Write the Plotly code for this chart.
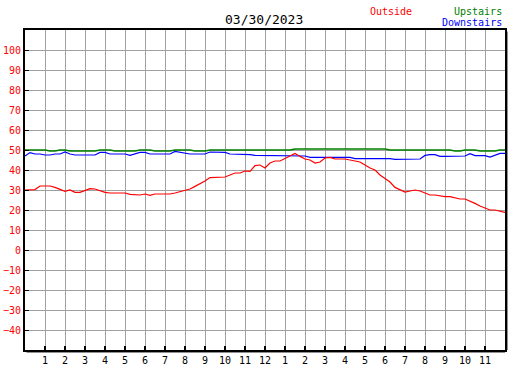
import plotly.graph_objects as go

# time in hours, 15-minute steps over the day
hours = [i / 4 for i in range(97)]

outside = [30, 30, 30.2, 32, 32, 32, 31.3, 30.3, 29.3, 30, 28.8, 28.8, 29.7, 30.7, 30.5, 29.8,
           28.8, 28.5, 28.5, 28.5, 28.5, 27.8, 27.8, 27.5, 28, 27.3, 28, 28, 28, 28, 28.5, 29.2,
           29.8, 30.5, 31.8, 33, 34.5, 36.2, 36.2, 36.5, 36.5, 37.5, 38.5, 38.5, 39.5, 39.3, 42.2, 42.5,
           41, 43.5, 44.5, 44.5, 45.8, 47.2, 48.3, 46.8, 45.5, 45, 43.5, 44, 46, 46.3, 45.5, 45.5,
           45.5, 45, 44.5, 44, 42.5, 41, 40, 37.5, 35.8, 34, 31.3, 30, 29, 29.5, 30, 29.5,
           28.3, 27.5, 27.5, 27, 26.7, 26.7, 26, 25.5, 25.5, 24.5, 23.3, 22, 20.8, 20, 20, 19.5,
           18.8]

downstairs = [47, 48.7, 48, 48, 47.5, 47.5, 48, 48, 49, 48, 47.5, 47.5, 47.5, 47.5, 47.5, 48.8,
              48.8, 48, 48, 48, 48, 47.3, 48, 48.8, 48.8, 48, 48, 48, 48, 48, 49.3, 48.8,
              48.3, 48, 48, 48, 48, 49, 49, 48.8, 48.8, 48, 48, 47.7, 47.7, 47.7, 47.3, 47.3,
              47.3, 47.3, 47.3, 47.3, 47, 47, 47, 47, 47, 46.3, 46.3, 46.3, 46.3, 46.3, 46.3, 46.3,
              46.3, 46.3, 45.7, 45.7, 45.7, 45.7, 45.7, 45.7, 45.7, 45.7, 45.3, 45.3, 45.3, 45.3, 45.3, 45.5,
              47.3, 47.7, 47.7, 46.8, 46.8, 46.8, 46.8, 46.8, 47, 48.2, 47.2, 47.2, 47.2, 46.5, 47.5, 48.3,
              48.3]

upstairs = [50, 50, 50, 50, 50, 49.5, 49.5, 50, 50, 49.5, 49.5, 49.5, 49.5, 49.5, 49.5, 50,
            50, 50, 49.5, 49.5, 49.5, 49.5, 49.5, 50, 50, 50, 49.5, 49.5, 49.5, 49.5, 50, 50,
            50, 50, 49.5, 49.5, 49.5, 50, 50, 50, 50, 50, 50, 50, 50, 50, 50, 50,
            50, 50, 50, 50, 50, 50, 50.5, 50.5, 50.5, 50.5, 50.5, 50.5, 50.5, 50.5, 50.5, 50.5,
            50.5, 50.5, 50.5, 50.5, 50.5, 50.5, 50.5, 50.5, 50.5, 50, 50, 50, 50, 50, 50, 50,
            50, 50, 50, 50, 50, 50, 49.5, 49.5, 50, 50, 50, 49.5, 49.5, 49.5, 49.5, 50,
            50]

x_tickvals = list(range(1, 24))
x_ticktext = [str(h) for h in range(1, 12)] + ["12"] + [str(h) for h in range(1, 12)]
y_tickvals = list(range(-40, 101, 10))

title_text = "03/30/2023"
FONT = "DejaVu Sans Mono"

fig = go.Figure()
fig.add_trace(go.Scatter(x=hours, y=upstairs, mode="lines", name="Upstairs",
                         line=dict(color="#008000", width=1.4)))
fig.add_trace(go.Scatter(x=hours, y=downstairs, mode="lines", name="Downstairs",
                         line=dict(color="#0000ff", width=1.2)))
fig.add_trace(go.Scatter(x=hours, y=outside, mode="lines", name="Outside",
                         line=dict(color="#ff0000", width=1.2)))

fig.update_layout(
    width=527, height=370,
    margin=dict(l=25, r=22, t=30, b=20, autoexpand=False),
    paper_bgcolor="white", plot_bgcolor="white",
    showlegend=False,
    font=dict(family=FONT, size=10, color="black"),
)
fig.update_xaxes(
    range=[0, 24], tickvals=x_tickvals, ticktext=x_ticktext,
    showgrid=True, gridcolor="#a0a0a0", gridwidth=1,
    showline=True, linecolor="black", linewidth=2, mirror=True,
    ticks="inside", ticklen=4, tickwidth=2, tickcolor="black",
    tickfont=dict(family=FONT, size=10, color="black"),
    zeroline=False, fixedrange=True, automargin=False,
)
fig.update_yaxes(
    range=[-50, 110], tickvals=y_tickvals,
    showgrid=True, gridcolor="#a0a0a0", gridwidth=1,
    showline=True, linecolor="black", linewidth=2, mirror=True,
    ticks="inside", ticklen=4, tickwidth=1, tickcolor="black",
    tickfont=dict(family=FONT, size=10, color="#ff0000"),
    zeroline=False, fixedrange=True, automargin=False,
)

# drop shadow on the right and bottom of the frame
fig.add_shape(type="line", xref="paper", yref="paper", xsizemode="pixel", xanchor=1,
              x0=2, x1=2, y0=0, y1=0.995, line=dict(color="#909090", width=2), layer="below")
fig.add_shape(type="line", xref="paper", yref="paper", ysizemode="pixel", yanchor=0,
              y0=-2, y1=-2, x0=0.003, x1=1.0, line=dict(color="#909090", width=2), layer="below")

fig.add_annotation(text=title_text, xref="paper", yref="paper", x=0.498, y=1.034,
                   xanchor="center", yanchor="middle", showarrow=False,
                   font=dict(family=FONT, size=13, color="black"))
fig.add_annotation(text="Outside", xref="paper", yref="paper", x=(414 - 25) / 480, y=(350 - 11) / 320,
                   xanchor="right", yanchor="middle", showarrow=False,
                   font=dict(family=FONT, size=10, color="#ff0000"))
fig.add_annotation(text="Upstairs", xref="paper", yref="paper", x=(504 - 25) / 480, y=(350 - 11) / 320,
                   xanchor="right", yanchor="middle", showarrow=False,
                   font=dict(family=FONT, size=10, color="#008000"))
fig.add_annotation(text="Downstairs", xref="paper", yref="paper", x=(504 - 25) / 480, y=(350 - 23) / 320,
                   xanchor="right", yanchor="middle", showarrow=False,
                   font=dict(family=FONT, size=10, color="#0000ff"))

fig.write_html("out.html", config={"displayModeBar": False},
               post_script="document.body.style.margin='0px';")
